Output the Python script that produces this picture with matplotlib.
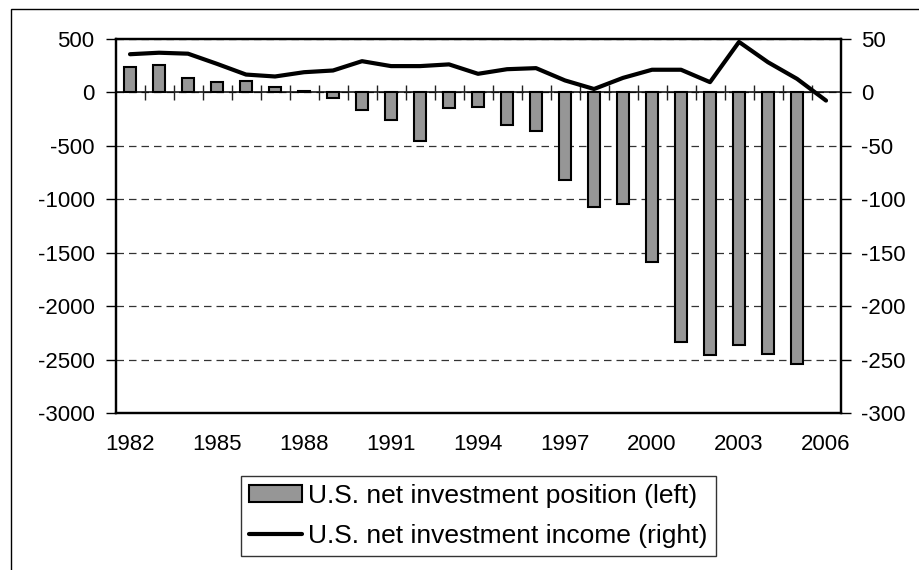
import matplotlib.pyplot as plt
import numpy as np
from matplotlib.patches import Rectangle

plt.rcParams['font.family'] = ['Liberation Sans', 'DejaVu Sans']
plt.rcParams['font.size'] = 16
plt.rcParams['axes.unicode_minus'] = False

years = list(range(1982, 2007))
label_years = [1982, 1985, 1988, 1991, 1994, 1997, 2000, 2003, 2006]
# net investment position (left axis), no bar for 2006
position = [232, 256, 133, 93, 102, 52, 12, -50, -170, -263, -454, -151, -139,
            -309, -361, -818, -1071, -1040, -1584, -2338, -2453, -2366, -2446,
            -2540, np.nan]
# net investment income (right axis)
income = [35.5, 36.9, 36, 26.5, 16.5, 14.7, 18.7, 20.3, 29, 24.4, 24.4, 26,
          17.2, 21.5, 22.5, 11, 3, 13.4, 21, 21, 9.4, 47, 28, 12.5, -7.8]
left_ticks = [500, 0, -500, -1000, -1500, -2000, -2500, -3000]
right_ticks = [50, 0, -50, -100, -150, -200, -250, -300]

fig = plt.figure(figsize=(9.19, 5.70), dpi=100)
ax = fig.add_axes([0.1257, 0.2749, 0.7889, 0.6572])
x = np.arange(len(years))

ax.set_axisbelow(True)
ax.grid(axis='y', color='#333333', linestyle=(0, (6, 4)), linewidth=0.9)
ax.bar(x, position, width=0.44, color='#969696', edgecolor='black',
       linewidth=1.5, zorder=3, label='U.S. net investment position (left)')
ax.axhline(0, color='black', linewidth=1.1, zorder=2)
ax.vlines(x[:-1] + 0.5, -70, 70, color='#222222', linewidth=1, zorder=2)

ax.set_xlim(-0.5, len(years) - 0.5)
ax.set_ylim(-3000, 500)
ax.set_yticks(left_ticks)
ax.set_xticks([years.index(y) for y in label_years])
ax.set_xticklabels([str(y) for y in label_years])
ax.tick_params(axis='x', length=0, pad=15)
ax.tick_params(axis='y', direction='out', length=7, width=1, pad=8)
for s in ax.spines.values():
    s.set_linewidth(1.6)

ax2 = ax.twinx()
ax2.plot(x, income, color='black', linewidth=3, solid_capstyle='round',
         zorder=5, label='U.S. net investment income (right)')
ax2.set_ylim(-300, 50)
ax2.set_yticks(right_ticks)
ax2.tick_params(axis='y', direction='out', length=7, width=1, pad=8)
for s in ax2.spines.values():
    s.set_linewidth(1.6)
ax.set_zorder(ax2.get_zorder() - 1)
ax2.patch.set_visible(False)

h1, l1 = ax.get_legend_handles_labels()
h2, l2 = ax2.get_legend_handles_labels()
leg = fig.legend(h1 + h2, l1 + l2, loc='upper center',
                 bbox_to_anchor=(0.5205, 1 - 476 / 570), frameon=True,
                 fancybox=False, edgecolor='black', fontsize=19,
                 handlelength=2.0, handleheight=0.6, handletextpad=0.25,
                 borderpad=0.3, labelspacing=0.62, borderaxespad=0)
leg.get_frame().set_linewidth(1)

# outer chart border (only top and left visible)
fig.patches.append(Rectangle((11 / 919, -0.05), 1.2, 1.05 - 9 / 570,
                             transform=fig.transFigure, fill=False,
                             edgecolor='black', linewidth=1))

plt.savefig('out.png', dpi=100)
